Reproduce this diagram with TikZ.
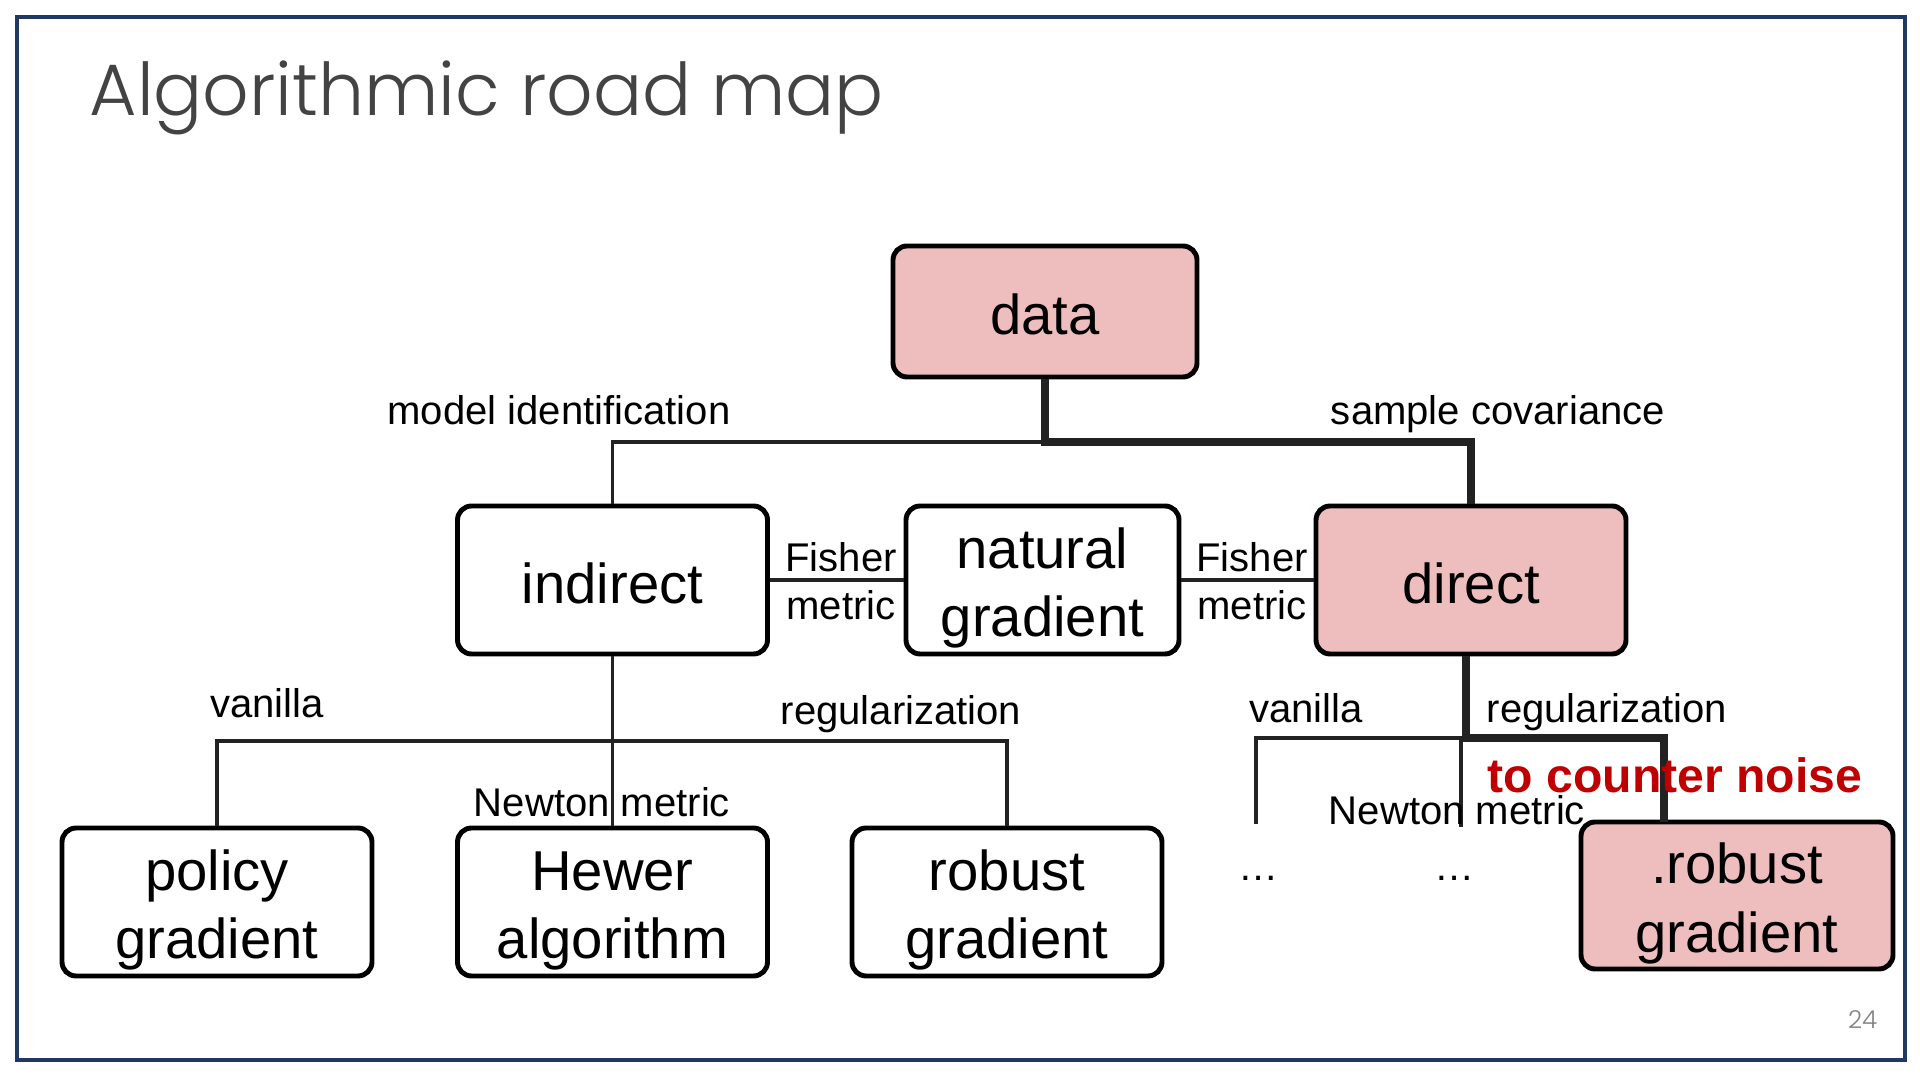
\documentclass[tikz,border=0pt]{standalone}
\usepackage{fontspec}
\setmainfont{Liberation Sans}
\newfontfamily\titlefont{Poppins Light}
\usepackage{tikz}
\usetikzlibrary{positioning, calc}
\definecolor{rmframe}{HTML}{1F3864}
\definecolor{rmpink}{HTML}{EEBEBE}
\definecolor{rmred}{HTML}{C00000}
\definecolor{rmline}{HTML}{222222}
\definecolor{rmtitle}{HTML}{434343}

\tikzset{
  algobox/.style={draw=black, line width=1.4pt, rounded corners=4pt,
    minimum width=3.1cm, minimum height=1.48cm, inner sep=0pt,
    align=center, font=\fontsize{16}{19.5}\selectfont,
    execute at begin node=\rule{0pt}{13.4pt}},
  twoline/.style={execute at begin node=\rule{0pt}{35.6pt}},
  hotbox/.style={algobox, fill=rmpink},
  edgelabel/.style={font=\fontsize{11.4}{13.6}\selectfont, inner sep=0pt, align=center},
  thinline/.style={rmline, line width=1pt},
  thickline/.style={rmline, line width=2.4pt},
}

\begin{document}
\begin{tikzpicture}
  % slide frame and title
  \useasboundingbox (0,0) rectangle (19.2,10.8);
  \draw[rmframe, line width=0.9pt] (0.17,0.20) rectangle (19.05,10.63);
  \node[anchor=base west, inner sep=0pt, rmtitle, font=\titlefont\fontsize{20.7}{25}\selectfont]
    (title) at (0.89,9.64) {Algorithmic road map};
  \node[anchor=base east, inner sep=0pt, gray, font=\titlefont\fontsize{7}{8}\selectfont]
    (pagenum) at (18.78,0.51) {24};

  % boxes
  \node[hotbox, minimum width=3.04cm, minimum height=1.31cm] (data) at (10.45,7.685) {data};
  \node[algobox] (indirect) at (6.125,5.0) {indirect};
  \node[algobox, twoline, minimum width=2.73cm] (natural) at (10.425,5.0) {natural\\gradient};
  \node[hotbox] (direct) at (14.71,5.0) {direct};
  \node[algobox, twoline] (policy) at (2.17,1.78) {policy\\gradient};
  \node[algobox, twoline] (hewer) at (6.125,1.78) {Hewer\\algorithm};
  \node[algobox, twoline] (robust) at (10.07,1.78) {robust\\gradient};
  \node[hotbox, twoline, minimum width=3.12cm, minimum height=1.47cm] (robustR) at (17.37,1.845) {.robust\\gradient};
  \node[edgelabel] (dotsA) at (12.59,2.02) {\dots};
  \node[edgelabel] (dotsB) at (14.55,2.02) {\dots};

  % branch points
  \coordinate (topsplit) at (10.45,6.38);
  \coordinate (lsplit) at (6.125,3.39);
  \coordinate (rsplit) at (14.66,3.42);
  \coordinate (vanEnd) at (12.56,2.56);
  \coordinate (newEnd) at (14.61,2.53);
  \coordinate (noiseEnd) at (16.64,2.58);

  % connectors
  \draw[thinline] (topsplit) -| (indirect.north);
  \draw[thinline] (indirect.east) -- (natural.west);
  \draw[thinline] (natural.east) -- (direct.west);
  \draw[thinline] (indirect.south) -- (hewer.north);
  \draw[thinline] (policy.north) |- (lsplit) -| (robust.north);
  \draw[thinline] (vanEnd) |- (rsplit) -| (newEnd);
  \draw[thickline] (data.south) -- (topsplit) -| (direct.north);
  \draw[thickline] (direct.south -| rsplit) -- (rsplit) -| (noiseEnd);

  % labels
  \node[edgelabel] (lblModel) at (5.59,6.70) {model identification};
  \node[edgelabel] (lblSample) at (14.98,6.66) {sample covariance};
  \node[edgelabel] (lblFisherL) at (8.41,4.99) {Fisher\\metric};
  \node[edgelabel] (lblFisherR) at (12.52,4.99) {Fisher\\metric};
  \node[edgelabel] (lblVanL) at (2.67,3.77) {vanilla};
  \node[edgelabel] (lblRegL) at (9.01,3.66) {regularization};
  \node[edgelabel] (lblNewtonL) at (6.02,2.78) {Newton metric};
  \node[edgelabel] (lblVanR) at (13.06,3.72) {vanilla};
  \node[edgelabel] (lblRegR) at (16.07,3.68) {regularization};
  \node[edgelabel] (lblNewtonR) at (14.57,2.70) {Newton metric};
  \node[edgelabel, rmred, font=\bfseries\fontsize{13.7}{16}\selectfont] (lblNoise) at (16.75,3.05) {to counter noise};
\end{tikzpicture}
\end{document}
